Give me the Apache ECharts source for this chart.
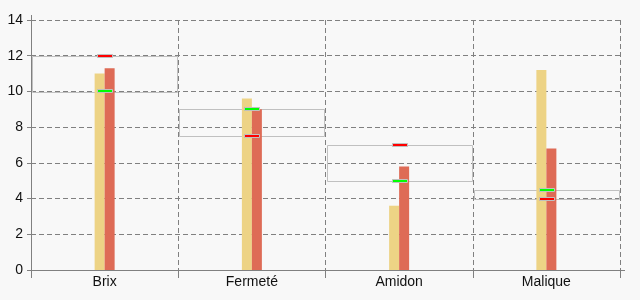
<!DOCTYPE html>
<html>
<head>
<meta charset="utf-8">
<script src="https://cdn.jsdelivr.net/npm/echarts@6/dist/echarts.min.js"></script>
<style>html,body{margin:0;padding:0;background:#f8f8f8;}#c{width:640px;height:300px;}</style>
</head>
<body>
<div id="c"></div>
<script>
const categories = ['Brix', 'Fermeté', 'Amidon', 'Malique'];
const yellowValues = [11.0, 9.6, 3.6, 11.2];
const orangeValues = [11.3, 9.0, 5.8, 6.8];
const redMarks = [12, 7.5, 7, 4];
const greenMarks = [10, 9, 5, 4.5];
const yTicks = [0, 2, 4, 6, 8, 10, 12, 14];

const chart = echarts.init(document.getElementById('c'), null, {renderer: 'canvas'});
const font = 'Liberation Sans, Arial, sans-serif';
const axisColor = '#808080';

const boxData = categories.map((c, i) => [i, Math.min(redMarks[i], greenMarks[i]), Math.max(redMarks[i], greenMarks[i])]);

function boxRender(params, api) {
  const i = api.value(0);
  const lo = api.coord([i, api.value(1)]);
  const hi = api.coord([i, api.value(2)]);
  const w = api.size([1, 0])[0];
  const x0 = lo[0] - w / 2 + 1;
  return {
    type: 'rect',
    shape: {x: Math.round(x0) + 0.5, y: Math.round(hi[1]) + 0.5, width: Math.round(w - 2), height: Math.round(lo[1] - hi[1])},
    style: {fill: 'none', stroke: '#c0c0c0', lineWidth: 1}
  };
}

function markRender(color) {
  return function (params, api) {
    const p = api.coord([api.value(0), api.value(1)]);
    return {
      type: 'rect',
      shape: {x: Math.round(p[0] - 7.5) + 0.5, y: Math.round(p[1] - 2) + 0.5, width: 15, height: 3},
      style: {fill: color, stroke: '#c0c0c0', lineWidth: 1}
    };
  };
}

const option = {
  backgroundColor: '#f8f8f8',
  animation: false,
  grid: {left: 31, right: 20, top: 20, bottom: 30, containLabel: false},
  xAxis: {
    type: 'category',
    data: categories,
    boundaryGap: true,
    axisLine: {show: true, lineStyle: {color: axisColor, width: 1}},
    axisTick: {show: true, length: 8, lineStyle: {color: axisColor}},
    axisLabel: {color: '#111', fontSize: 14, fontFamily: font, margin: 5},
    splitLine: {show: true, lineStyle: {color: axisColor, type: [5, 3], width: 1}}
  },
  yAxis: {
    type: 'value',
    min: 0, max: 14, interval: 2,
    axisLine: {show: true, lineStyle: {color: axisColor, width: 1}},
    axisTick: {show: true, length: 4, lineStyle: {color: axisColor}},
    axisLabel: {color: '#111', fontSize: 14, fontFamily: font, margin: 8,
      formatter: v => yTicks.includes(v) ? String(v) : ''},
    splitLine: {show: true, lineStyle: {color: axisColor, type: [5, 3], width: 1}}
  },
  series: [
    {type: 'custom', renderItem: boxRender, data: boxData, z: 1, silent: true},
    {type: 'bar', data: yellowValues, barWidth: 10, barGap: '0%', itemStyle: {color: '#edd385'}, z: 2},
    {type: 'bar', data: orangeValues, barWidth: 10, barGap: '0%', itemStyle: {color: '#de6b56'}, z: 2},
    {type: 'custom', renderItem: markRender('#ff0000'), data: redMarks.map((v, i) => [i, v]), z: 5, silent: true},
    {type: 'custom', renderItem: markRender('#00ff00'), data: greenMarks.map((v, i) => [i, v]), z: 5, silent: true}
  ]
};
chart.setOption(option);

// small axis-line overshoots, positioned from the axes themselves
const origin = chart.convertToPixel({gridIndex: 0}, [0, 0]);
const gridRect = chart.getModel().getComponent('grid', 0).coordinateSystem.getRect();
const ax = Math.round(gridRect.x) + 0.5;
const ay = Math.round(gridRect.y + gridRect.height) + 0.5;
chart.setOption({
  graphic: [
    {type: 'line', shape: {x1: ax, y1: Math.round(gridRect.y) - 5, x2: ax, y2: Math.round(gridRect.y)}, style: {stroke: axisColor, lineWidth: 1}, silent: true},
    {type: 'line', shape: {x1: Math.round(gridRect.x + gridRect.width), y1: ay, x2: Math.round(gridRect.x + gridRect.width) + 5, y2: ay}, style: {stroke: axisColor, lineWidth: 1}, silent: true}
  ]
});
</script>
</body>
</html>
